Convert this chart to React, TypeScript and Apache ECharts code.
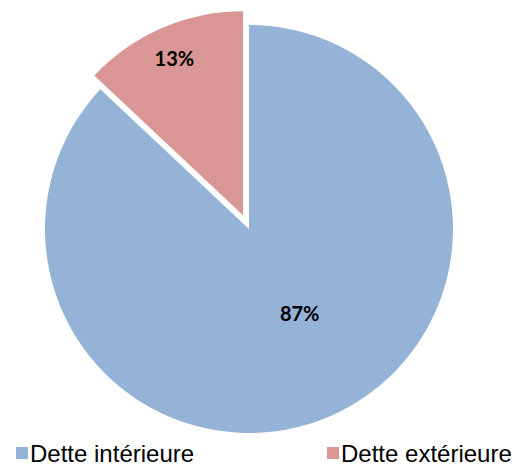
import React, { useEffect, useRef } from "react";
import * as echarts from "echarts";

const categories = ["Dette intérieure", "Dette extérieure"];
const values = [87, 13];
const colors = ["#95B3D7", "#D99694"];
const labelShifts = [
  [9, -12],
  [-27, -61],
];

export default function App() {
  const ref = useRef<HTMLDivElement>(null);
  useEffect(() => {
    if (!ref.current) return;
    const chart = echarts.init(ref.current, undefined, { renderer: "svg" });
    chart.setOption({
      animation: false,
      backgroundColor: "#ffffff",
      legend: categories.map((name, i) => ({
        data: [name],
        left: i === 0 ? 16 : 327,
        top: 441,
        padding: 0,
        itemWidth: 12,
        itemHeight: 12,
        icon: "rect",
        selectedMode: false,
        textStyle: {
          fontSize: 24,
          fontFamily: "Liberation Sans, Arial, sans-serif",
          color: "#000",
          padding: [0, 0, 0, -3],
        },
      })),
      series: [
        {
          type: "pie",
          center: [249, 229],
          radius: 204,
          startAngle: 90,
          clockwise: true,
          selectedMode: "single",
          selectedOffset: 15,
          percentPrecision: 0,
          emphasis: { disabled: true },
          label: {
            show: true,
            position: "inside",
            formatter: "{d}%",
            fontFamily: "Lato, sans-serif",
            fontWeight: "bold",
            fontSize: 20,
            color: "#000",
          },
          labelLine: { show: false },
          labelLayout: (params: any) => {
            const s = labelShifts[params.dataIndex] || [0, 0];
            return { dx: s[0], dy: s[1] };
          },
          data: categories.map((name, i) => ({
            name,
            value: values[i],
            selected: i === 1,
            itemStyle: { color: colors[i] },
          })),
        },
      ],
    });
    return () => chart.dispose();
  }, []);
  return <div ref={ref} style={{ width: 516, height: 465, position: "absolute", left: 0, top: 0 }} />;
}
